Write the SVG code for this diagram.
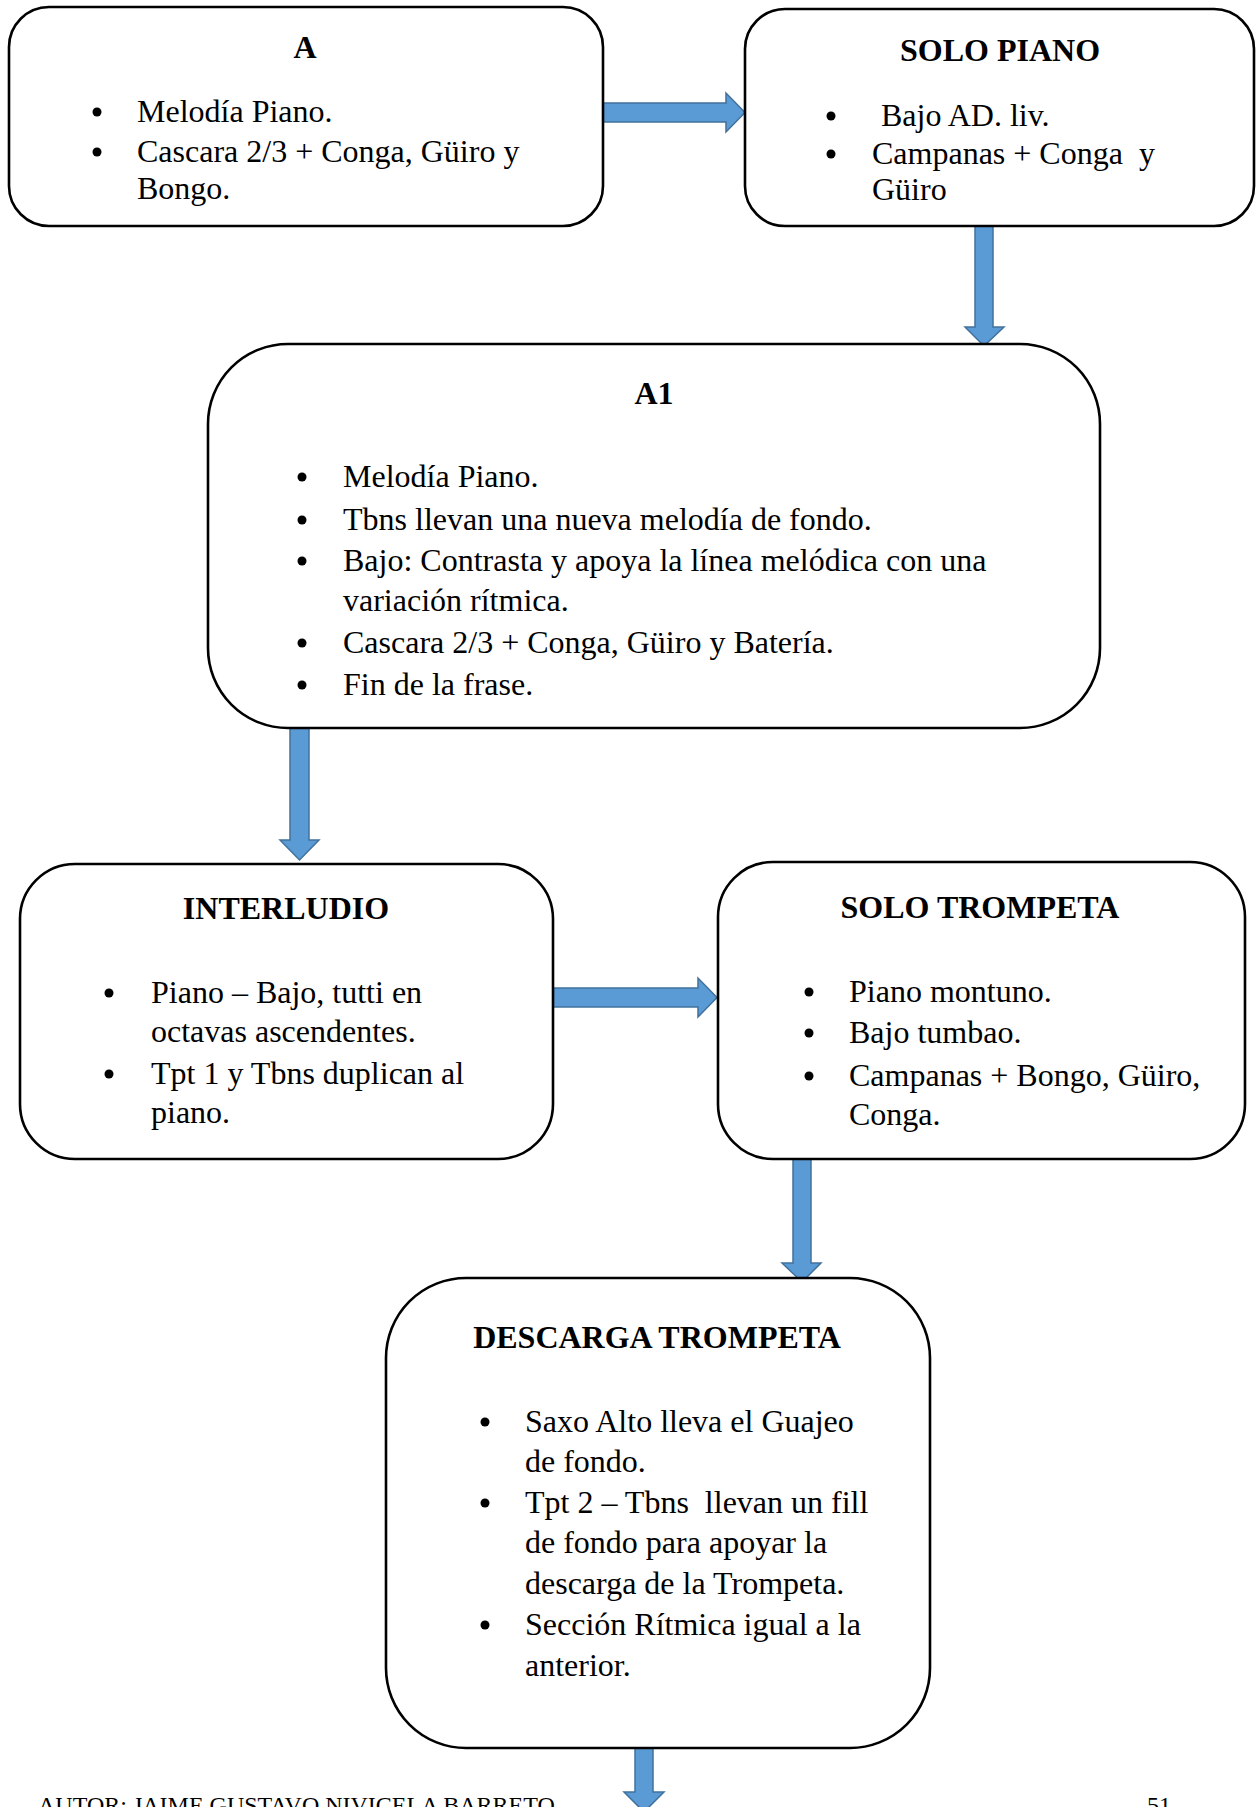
<svg xmlns="http://www.w3.org/2000/svg" width="1258" height="1807" viewBox="0 0 1258 1807">
<style>
.box{fill:#fff;stroke:#000;stroke-width:2.6}
.t{font-family:"Liberation Serif","Times New Roman",serif;font-size:32px;fill:#000;white-space:pre}
.h{font-weight:bold;text-anchor:middle}
.b{fill:#000}
.arr{fill:#5B9BD5;stroke:#41719C;stroke-width:1.5;stroke-linejoin:miter}
.f{font-family:"Liberation Serif","Times New Roman",serif;font-size:24px;fill:#000}
</style>
<rect width="1258" height="1807" fill="#fff"/>

<g id="connectors">
<polygon class="arr" points="602,103 726,103 726,93 745,112.5 726,132 726,122 602,122"/>
<polygon class="arr" points="975,226 993,226 993,327 1004,327 984,346 965,327 975,327"/>
<polygon class="arr" points="290,728 309,728 309,840 319,840 299.5,860 280,840 290,840"/>
<polygon class="arr" points="553,988 698,988 698,978 717,997.5 698,1017 698,1007 553,1007"/>
<polygon class="arr" points="793,1159 811,1159 811,1263 821,1263 802,1282 782,1263 793,1263"/>
<polygon class="arr" points="635,1745 653,1745 653,1792 664,1792 644,1812 624,1792 635,1792"/>
</g>

<g id="node-a">
<rect class="box" x="9" y="7" width="594" height="219" rx="40"/>
<text class="t h" x="305" y="58">A</text>
<circle class="b" cx="97" cy="112" r="4.5"/>
<text class="t" x="137" y="122">Melodía Piano.</text>
<circle class="b" cx="97" cy="152" r="4.5"/>
<text class="t" x="137" y="162">Cascara 2/3 + Conga, Güiro y</text>
<text class="t" x="137" y="199">Bongo.</text>
</g>

<g id="node-solo-piano">
<rect class="box" x="745" y="9" width="509" height="217" rx="40"/>
<text class="t h" x="1000" y="61">SOLO PIANO</text>
<circle class="b" cx="831" cy="116" r="4.5"/>
<text class="t" x="881" y="126">Bajo AD. liv.</text>
<circle class="b" cx="831" cy="154" r="4.5"/>
<text class="t" x="872" y="164">Campanas + Conga  y</text>
<text class="t" x="872" y="200">Güiro</text>
</g>

<g id="node-a1">
<rect class="box" x="208" y="344" width="892" height="384" rx="80"/>
<text class="t h" x="654" y="404">A1</text>
<circle class="b" cx="302" cy="477" r="4.5"/>
<text class="t" x="343" y="487">Melodía Piano.</text>
<circle class="b" cx="302" cy="520" r="4.5"/>
<text class="t" x="343" y="530">Tbns llevan una nueva melodía de fondo.</text>
<circle class="b" cx="302" cy="561" r="4.5"/>
<text class="t" x="343" y="571">Bajo: Contrasta y apoya la línea melódica con una</text>
<text class="t" x="343" y="611">variación rítmica.</text>
<circle class="b" cx="302" cy="643" r="4.5"/>
<text class="t" x="343" y="653">Cascara 2/3 + Conga, Güiro y Batería.</text>
<circle class="b" cx="302" cy="685" r="4.5"/>
<text class="t" x="343" y="695">Fin de la frase.</text>
</g>

<g id="node-interludio">
<rect class="box" x="20" y="864" width="533" height="295" rx="55"/>
<text class="t h" x="286" y="919">INTERLUDIO</text>
<circle class="b" cx="109" cy="993" r="4.5"/>
<text class="t" x="151" y="1003">Piano – Bajo, tutti en</text>
<text class="t" x="151" y="1042">octavas ascendentes.</text>
<circle class="b" cx="109" cy="1074" r="4.5"/>
<text class="t" x="151" y="1084">Tpt 1 y Tbns duplican al</text>
<text class="t" x="151" y="1123">piano.</text>
</g>

<g id="node-solo-trompeta">
<rect class="box" x="718" y="862" width="527" height="297" rx="55"/>
<text class="t h" x="980" y="918">SOLO TROMPETA</text>
<circle class="b" cx="809" cy="992" r="4.5"/>
<text class="t" x="849" y="1002">Piano montuno.</text>
<circle class="b" cx="809" cy="1033" r="4.5"/>
<text class="t" x="849" y="1043">Bajo tumbao.</text>
<circle class="b" cx="809" cy="1076" r="4.5"/>
<text class="t" x="849" y="1086">Campanas + Bongo, Güiro,</text>
<text class="t" x="849" y="1125">Conga.</text>
</g>

<g id="node-descarga">
<rect class="box" x="386" y="1278" width="544" height="470" rx="80"/>
<text class="t h" x="657" y="1348">DESCARGA TROMPETA</text>
<circle class="b" cx="485" cy="1422" r="4.5"/>
<text class="t" x="525" y="1432">Saxo Alto lleva el Guajeo</text>
<text class="t" x="525" y="1472">de fondo.</text>
<circle class="b" cx="485" cy="1503" r="4.5"/>
<text class="t" x="525" y="1513">Tpt 2 – Tbns  llevan un fill</text>
<text class="t" x="525" y="1553">de fondo para apoyar la</text>
<text class="t" x="525" y="1594">descarga de la Trompeta.</text>
<circle class="b" cx="485" cy="1625" r="4.5"/>
<text class="t" x="525" y="1635">Sección Rítmica igual a la</text>
<text class="t" x="525" y="1676">anterior.</text>
</g>

<g id="footer">
<text class="f" x="38" y="1813">AUTOR: JAIME GUSTAVO NIVICELA BARRETO</text>
<text class="f" x="1147" y="1813">51</text>
</g>
</svg>
